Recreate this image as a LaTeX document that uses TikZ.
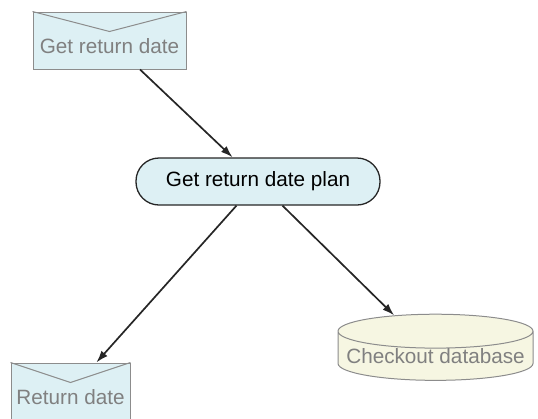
\documentclass[tikz,border=0pt]{standalone}
\usepackage{fontspec}
\setmainfont{Liberation Sans}
\usetikzlibrary{arrows.meta,shapes.geometric,calc}
\definecolor{envfill}{HTML}{DDF0F4}
\definecolor{envline}{HTML}{8C8C8C}
\definecolor{envtext}{HTML}{808080}
\definecolor{dbfill}{HTML}{F6F6E2}

\begin{document}
\begin{tikzpicture}[x=1pt,y=-1pt,
  env/.style={draw=envline,fill=envfill,text=envtext,line width=1pt,
              minimum width=153pt,minimum height=57pt,inner sep=0pt,
              text height=25pt,text depth=0pt,
              font=\fontsize{20.7}{24}\selectfont},
  plan/.style={draw=black!85,fill=envfill,line width=1.3pt,rounded corners=23pt,
               minimum width=244pt,minimum height=47pt,inner sep=0pt,
               font=\fontsize{20.7}{24}\selectfont},
  db/.style={cylinder,shape border rotate=90,aspect=0.19,draw=envline,
             fill=dbfill,text=envtext,line width=1pt,
             minimum width=195pt,minimum height=66pt,inner sep=0pt,
             text height=14.8pt,text depth=0pt,
             font=\fontsize{20.7}{24}\selectfont},
  flow/.style={-{Latex[length=12pt,width=8pt]},line width=1.7pt,black!85}
]
\useasboundingbox (0,0) rectangle (538,418);
\clip (0,0) rectangle (538,418);

% ---- Input -----------------------------------------------------
\node[env] (get) at (109.5,40.5) {Get return date};
\draw[envline,line width=1pt] (get.north west) -- ($(get.north)+(0,20)$) -- (get.north east);

% ---- Plan ------------------------------------------------------
\node[plan] (plan) at (258,181.5) {Get return date plan};

% ---- Outputs ---------------------------------------------------
\node[env,minimum width=119pt] (ret) at (70.5,391.5) {Return date};
\draw[envline,line width=1pt] (ret.north west) -- ($(ret.north)+(0,20)$) -- (ret.north east);

\node[db] (checkout) at (435.5,356) {Checkout database};

% Connectors
\draw[flow] (get) -- (plan);
\draw[flow] (plan) -- (ret);
\draw[flow] (plan) -- (checkout);

\end{tikzpicture}
\end{document}
